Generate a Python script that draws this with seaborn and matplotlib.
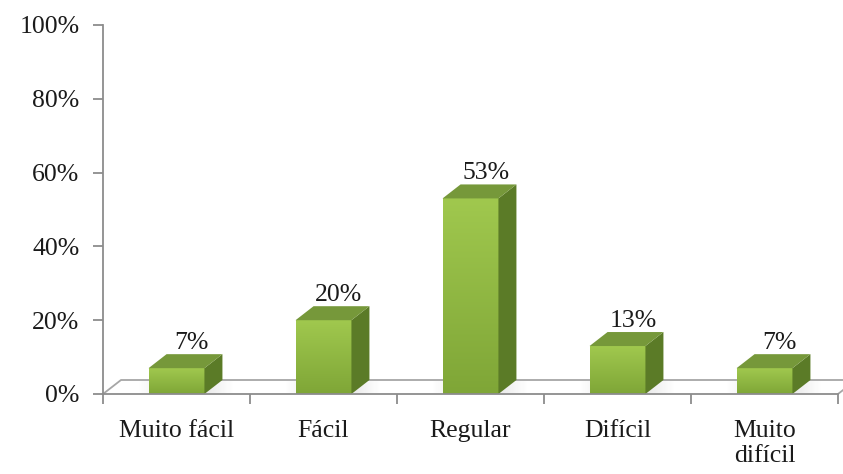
import matplotlib
matplotlib.use("Agg")
import matplotlib.pyplot as plt
import seaborn as sns
import numpy as np
import pandas as pd
from matplotlib.patches import Polygon
from matplotlib.colors import LinearSegmentedColormap

categories = ["Muito fácil", "Fácil", "Regular", "Difícil", "Muito\ndifícil"]
values = [7, 20, 53, 13, 7]
value_labels = ["7%", "20%", "53%", "13%", "7%"]
yticks = [0, 20, 40, 60, 80, 100]
ytick_labels = ["0%", "20%", "40%", "60%", "80%", "100%"]

df = pd.DataFrame({"cat": categories, "val": values})

sns.set_theme(style="white")
plt.rcParams["font.family"] = ["Liberation Serif", "DejaVu Serif"]

FS = 18.5

fig = plt.figure(figsize=(8.43, 4.74), dpi=100)
W, H = 843, 474
ax = fig.add_axes([103 / W, (H - 394) / H, (838 - 103) / W, (394 - 25) / H])

sns.barplot(data=df, x="cat", y="val", color="#8DB843", width=0.38,
            saturation=1, ax=ax, zorder=3, edgecolor="none")

ax.set_xlim(-0.5, 4.5)
ax.set_ylim(0, 100)

# depth offsets in data units (converted from pixels)
px_x = 5.0 / (838 - 103)
px_y = 100.0 / (394 - 25)
dx = 18 * px_x
dy = 14 * px_y

axis_col = "#8C8C8C"

# floor parallelogram
floor_col = "#A6A6A6"
x0, x1 = -0.5, 4.5
ax.plot([x0, x0 + dx, x1 + dx], [0, dy, dy], color=floor_col, lw=1.3,
        zorder=1, clip_on=False)
ax.plot([x1, x1 + dx], [0, dy], color=floor_col, lw=1.3, zorder=1, clip_on=False)

grad = LinearSegmentedColormap.from_list("g", ["#7FA637", "#A0C84E"])
shadow = LinearSegmentedColormap.from_list("s", ["#C8C8C8", "#FFFFFF"])
for p, lab in zip(ax.patches, value_labels):
    bx, bw, bh = p.get_x(), p.get_width(), p.get_height()
    # soft shadow on floor
    sh = Polygon([[bx - dx * 0.6, 0], [bx + bw + dx * 1.6, 0],
                  [bx + bw + dx * 1.6, dy * 0.9], [bx - dx * 0.6, dy * 0.9]],
                 closed=True, facecolor="none", edgecolor="none")
    ax.add_patch(sh)
    imsh = ax.imshow(np.abs(np.linspace(-1, 1, 60)).reshape(1, -1) ** 0.7,
                     cmap=shadow, extent=[bx - dx * 0.6, bx + bw + dx * 1.6, 0.3, dy * 0.9],
                     origin="lower", aspect="auto", zorder=2, alpha=0.8)
    imsh.set_clip_path(sh)
    # gradient on front face
    im = ax.imshow(np.linspace(0, 1, 100).reshape(-1, 1), cmap=grad,
                   extent=[bx, bx + bw, 0, bh], origin="lower", aspect="auto",
                   zorder=3.5)
    im.set_clip_path(p)
    # side face
    side = Polygon([[bx + bw, 0], [bx + bw + dx, dy], [bx + bw + dx, bh + dy],
                    [bx + bw, bh]], closed=True, facecolor="#5B7B27",
                   edgecolor="none", zorder=3.6)
    ax.add_patch(side)
    # top face
    top = Polygon([[bx, bh], [bx + dx, bh + dy], [bx + bw + dx, bh + dy],
                   [bx + bw, bh]], closed=True, facecolor="#76983A",
                  edgecolor="none", zorder=3.6)
    ax.add_patch(top)
    ax.text(bx + bw / 2 + dx * 0.85, bh + dy + 5 * px_y, lab, ha="center",
            va="baseline", fontsize=FS, color="#1A1A1A", zorder=5)

ax.set_xlim(-0.5, 4.5)
ax.set_ylim(0, 100)

ax.set_xlabel("")
ax.set_ylabel("")
ax.set_yticks(yticks)
ax.set_yticklabels(ytick_labels)
ax.set_xticks(range(len(categories)))
ax.set_xticklabels(categories, linespacing=1.15)

for s in ["top", "right"]:
    ax.spines[s].set_visible(False)
for s in ["left", "bottom"]:
    ax.spines[s].set_color(axis_col)
    ax.spines[s].set_linewidth(1.3)
    ax.spines[s].set_zorder(6)

ax.tick_params(axis="y", length=7, width=1.3, color=axis_col, labelsize=FS,
               pad=10, labelcolor="#1A1A1A", left=True)
ax.tick_params(axis="x", length=0, labelsize=FS, pad=19, labelcolor="#1A1A1A")
# category boundary ticks on x axis
ax.set_xticks(np.arange(-0.5, 5.0, 1.0), minor=True)
ax.tick_params(axis="x", which="minor", length=7, width=1.3, color=axis_col,
               bottom=True, direction="out")
ax.set_facecolor("white")

fig.savefig("out.png", dpi=100)
